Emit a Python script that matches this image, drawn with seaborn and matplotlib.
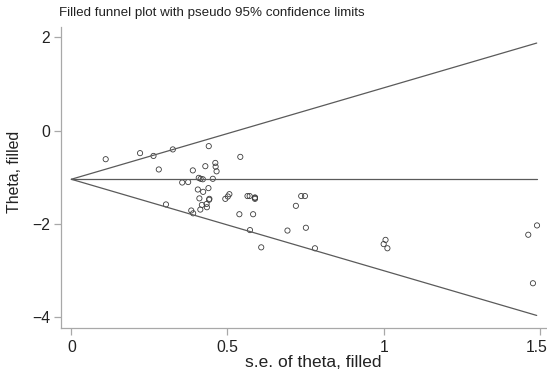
import numpy as np
import pandas as pd
import matplotlib
matplotlib.use("Agg")
import matplotlib.pyplot as plt
import matplotlib.transforms as mtransforms
import seaborn as sns

# study standard errors and (filled) effect estimates
se = [0.110, 0.220, 0.263, 0.325, 0.440, 0.541, 0.280, 0.389, 0.429, 0.461,
      0.462, 0.465, 0.355, 0.374, 0.408, 0.414, 0.421, 0.453, 0.405, 0.422,
      0.439, 0.410, 0.441, 0.442, 0.418, 0.433, 0.434, 0.413, 0.384, 0.390,
      0.303, 0.493, 0.501, 0.506, 0.564, 0.571, 0.588, 0.588, 0.588, 0.538,
      0.582, 0.572, 0.608, 0.719, 0.736, 0.748, 0.692, 0.751, 0.780, 1.006,
      1.000, 1.012, 1.463, 1.491, 1.478]
theta = [-0.61, -0.48, -0.54, -0.40, -0.33, -0.56, -0.83, -0.85, -0.76, -0.69,
         -0.77, -0.87, -1.11, -1.10, -1.01, -1.03, -1.04, -1.03, -1.26, -1.31,
         -1.23, -1.45, -1.48, -1.46, -1.59, -1.57, -1.64, -1.69, -1.71, -1.77,
         -1.58, -1.46, -1.41, -1.36, -1.40, -1.40, -1.43, -1.46, -1.44, -1.79,
         -1.79, -2.13, -2.50, -1.61, -1.40, -1.40, -2.14, -2.08, -2.52, -2.34,
         -2.43, -2.52, -2.23, -2.03, -3.27]

pooled = -1.04
se_max = 1.49

df = pd.DataFrame({"se": se, "theta": theta})

lim_se = [0.0, se_max]
funnel = pd.DataFrame({
    "se": lim_se * 3,
    "theta": [pooled, pooled,
              pooled, pooled + 1.96 * se_max,
              pooled, pooled - 1.96 * se_max],
    "line": ["mid", "mid", "up", "up", "low", "low"],
})

sns.set_style("ticks")
plt.rcParams["font.family"] = ["Liberation Sans", "DejaVu Sans"]

fig = plt.figure(figsize=(5.47, 3.73), dpi=100)
ax = fig.add_axes([0.111, 0.1206, 0.889, 0.8064])

sns.lineplot(data=funnel, x="se", y="theta", units="line", estimator=None,
             color="#5a5a5a", linewidth=0.9, ax=ax)
sns.scatterplot(data=df, x="se", y="theta", marker="o", s=14,
                facecolor="none", edgecolor="#3c3c3c", linewidth=0.6, ax=ax)

ax.set_xlim(-0.034, 1.523)
ax.set_ylim(-4.23, 2.22)
ax.set_xticks([0, 0.5, 1, 1.5])
ax.set_xticklabels(["0", "0.5", "1", "1.5"])
ax.set_yticks([-4, -2, 0, 2])
ax.set_yticklabels(["\u22124", "\u22122", "0", "2"])

for side in ["top", "right"]:
    ax.spines[side].set_visible(False)
for side in ["left", "bottom"]:
    ax.spines[side].set_color("#a8a8a8")
    ax.spines[side].set_linewidth(0.9)
ax.tick_params(colors="#a8a8a8", labelcolor="#222222", labelsize=11.3,
               length=5, width=0.9)
ax.tick_params(axis="y", pad=2.5)

# last x label sits a bit left of its tick, as in the original
last = ax.get_xticklabels()[-1]
last.set_transform(last.get_transform() +
                   mtransforms.ScaledTranslation(-0.03, 0, fig.dpi_scale_trans))

ax.set_xlabel("s.e. of theta, filled", fontsize=12.5, color="#222222")
ax.xaxis.label.set_va("center")
ax.xaxis.set_label_coords(0.519, -0.116)
ax.set_ylabel("Theta, filled", fontsize=11.4, color="#222222")
ax.yaxis.label.set_va("center")
ax.yaxis.set_label_coords(-0.095, 0.519)

fig.text(0.108, 0.965, "Filled funnel plot with pseudo 95% confidence limits",
         fontsize=9.6, color="#222222", ha="left", va="center")

fig.savefig("out.png", dpi=100)
